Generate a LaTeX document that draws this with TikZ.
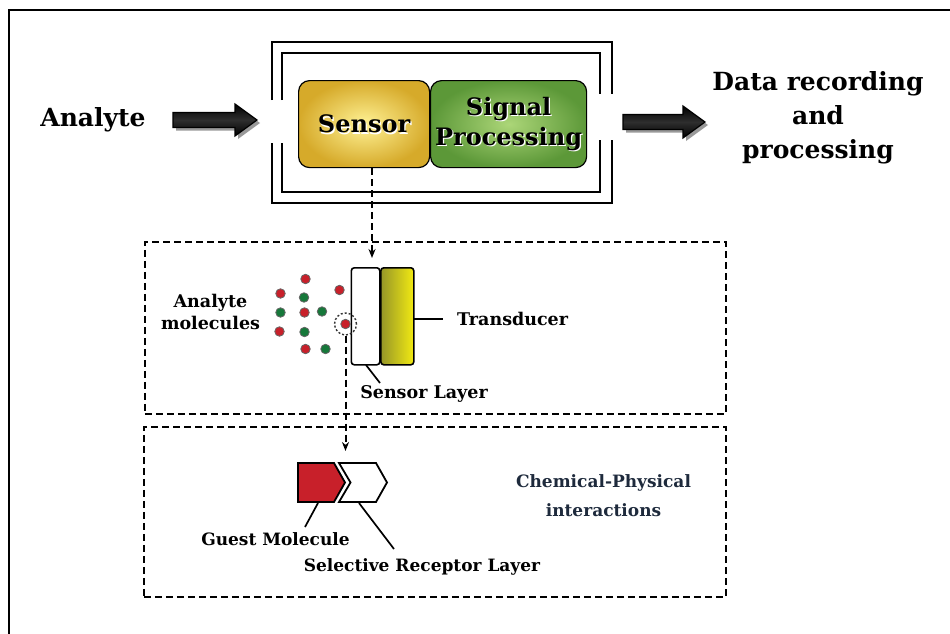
\documentclass[tikz,border=0pt]{standalone}
\usepackage{fontspec}
\setmainfont{DejaVu Serif}
\usetikzlibrary{arrows.meta}
\definecolor{dotred}{HTML}{C8202A}
\definecolor{dotgreen}{HTML}{16783A}
\definecolor{navy}{HTML}{1E2A3C}
\tikzset{
  frameline/.style={line width=2.9pt, line cap=butt},
  dbox/.style={draw, dashed, dash pattern=on 7pt off 4pt, line width=1.8pt},
  dconn/.style={dashed, dash pattern=on 7pt off 4pt, line width=2pt, -{Stealth[length=9pt,width=7pt]}},
  callout/.style={line width=1.7pt},
  lbl/.style={font=\bfseries, inner sep=0pt, align=center},
  reddot/.style={circle, fill=dotred, draw=black!60, line width=0.8pt, minimum size=9.5pt, inner sep=0pt},
  greendot/.style={circle, fill=dotgreen, draw=black!60, line width=0.8pt, minimum size=9.5pt, inner sep=0pt},
}
\newcommand\fatarrow[3]{% x0, x1(tip), ycenter
  \fill[black!40] (#1+3,#3-7.5+3) -- (#2-22+3,#3-7.5+3) -- (#2-22+3,#3-16+3) -- (#2+3,#3+3) -- (#2-22+3,#3+16+3) -- (#2-22+3,#3+7.5+3) -- (#1+3,#3+7.5+3) -- cycle;
  \shade[top color=black, bottom color=black, middle color=black!82, draw=black, line width=1.2pt] (#1,#3-7.5) -- (#2-22,#3-7.5) -- (#2-22,#3-16) -- (#2,#3) -- (#2-22,#3+16) -- (#2-22,#3+7.5) -- (#1,#3+7.5) -- cycle;
}
\begin{document}
\begin{tikzpicture}[x=1pt,y=-1pt]
\useasboundingbox (0,0) rectangle (950,634);
% outer frame (top and left only)
\draw[line width=2.8pt] (9,634) -- (9,10) -- (950,10);
% double frame
\draw[frameline] (272,100) -- (272,42) -- (612,42) -- (612,94);
\draw[frameline] (272,143) -- (272,203) -- (612,203) -- (612,140);
\draw[frameline] (282,100) -- (282,53) -- (600,53) -- (600,94);
\draw[frameline] (282,143) -- (282,192) -- (600,192) -- (600,140);
% sensor & signal processing
\node[draw=black, line width=1.2pt, rounded corners=11pt, inner color=yellow!35!white!90!orange, outer color={rgb,255:red,214;green,170;blue,42}, minimum width=131pt, minimum height=87pt, anchor=north west] (sensor) at (298,80) {};
\node[draw=black, line width=1.2pt, rounded corners=11pt, inner color={rgb,255:red,172;green,214;blue,120}, outer color={rgb,255:red,92;green,152;blue,56}, minimum width=156pt, minimum height=87pt, anchor=north west] (signal) at (430,80) {};
\node[lbl, font=\bfseries\fontsize{24}{24}\selectfont, text=white] at ([shift={(1.2,1.2)}]sensor.center) {Sensor};
\node[lbl, font=\bfseries\fontsize{24}{24}\selectfont] (sensortxt) at (sensor.center) {Sensor};
\node[lbl, font=\bfseries\fontsize{24}{30}\selectfont, text=white] at ([shift={(1.2,1.2)}]signal.center) {Signal\\Processing};
\node[lbl, font=\bfseries\fontsize{24}{30}\selectfont] (signaltxt) at (signal.center) {Signal\\Processing};
% side labels and fat arrows
\node[lbl, font=\bfseries\fontsize{25}{30}\selectfont] (analyte) at (93,120) {Analyte};
\node[lbl, font=\bfseries\fontsize{25}{34}\selectfont] (data) at (818,118) {Data recording\\and\\processing};
\fatarrow{173}{257}{120}
\fatarrow{623}{705}{122}
% dashed boxes
\node[dbox, minimum width=581pt, minimum height=172pt, anchor=north west, inner sep=0pt] (box1) at (144,241) {};
\node[dbox, minimum width=582pt, minimum height=170pt, anchor=north west, inner sep=0pt] (box2) at (143,426) {};
% sensor layer and transducer
\node[draw=black, line width=1.6pt, rounded corners=3pt, fill=white, minimum width=28.5pt, minimum height=97pt, anchor=north west, inner sep=0pt] (slayer) at (350.5,267) {};
\node[draw=black, line width=1.6pt, rounded corners=3pt, left color={rgb,255:red,150;green,150;blue,40}, right color={rgb,255:red,242;green,234;blue,18}, minimum width=33pt, minimum height=97pt, anchor=north west, inner sep=0pt] (trans) at (380,267) {};
% dots
\node[reddot] (d1) at (305.5,279) {};
\node[reddot] (d2) at (280.5,293.5) {};
\node[greendot] (d3) at (304,297.5) {};
\node[reddot] (d4) at (339.5,290) {};
\node[greendot] (d5) at (280.5,312.5) {};
\node[reddot] (d6) at (304.5,312.5) {};
\node[greendot] (d7) at (322,311.5) {};
\node[reddot] (d8) at (279.5,331.5) {};
\node[greendot] (d9) at (304.5,332) {};
\node[reddot] (d10) at (305.5,349) {};
\node[greendot] (d11) at (325.5,349) {};
\node[reddot] (dc) at (345.5,324) {};
\node[circle, draw=black!80, dash pattern=on 2pt off 2pt, line width=1.4pt, minimum size=22pt, inner sep=0pt] (ring) at (345.5,324) {};
% labels box 1
\node[lbl, font=\bfseries\fontsize{17.5}{21.5}\selectfont] (amol) at (210.5,312) {Analyte\\molecules};
\node[lbl, font=\bfseries\fontsize{17.5}{21}\selectfont, anchor=west] (transtxt) at (457,318.5) {Transducer};
\node[lbl, font=\bfseries\fontsize{17.5}{21}\selectfont] (sltxt) at (424,394) {Sensor Layer};
\coordinate (tpt) at (413,319);
\draw[callout] (tpt) -- (443,319);
\draw[callout] (366,365) -- (380,383);
% dashed connectors
\draw[dconn] (sensor.south -| 372,0) -- (372,258);
\draw[dconn] (ring.south) -- (345.5,451);
% box 2 shapes
\draw[fill=dotred, line width=1.8pt, line join=miter] (298,463) -- (334,463) -- (345,482.5) -- (334,502) -- (298,502) -- cycle;
\draw[fill=white, line width=1.8pt, line join=miter] (339,463) -- (376,463) -- (387,482.5) -- (376,502) -- (339,502) -- (350.5,482.5) -- cycle;
\coordinate (guest) at (318,503);
\coordinate (recep) at (359,503);
\node[lbl, font=\bfseries\fontsize{17}{21}\selectfont] (guesttxt) at (275.5,539.5) {Guest Molecule};
\node[lbl, font=\bfseries\fontsize{17}{21}\selectfont] (receptxt) at (422,567) {Selective Receptor Layer};
\draw[callout] (guest) -- (305,527);
\draw[callout] (recep) -- (394,549);
\node[lbl, font=\bfseries\fontsize{17}{29}\selectfont, text=navy] (chem) at (603.5,495.5) {Chemical-Physical\\interactions};
\end{tikzpicture}
\end{document}
